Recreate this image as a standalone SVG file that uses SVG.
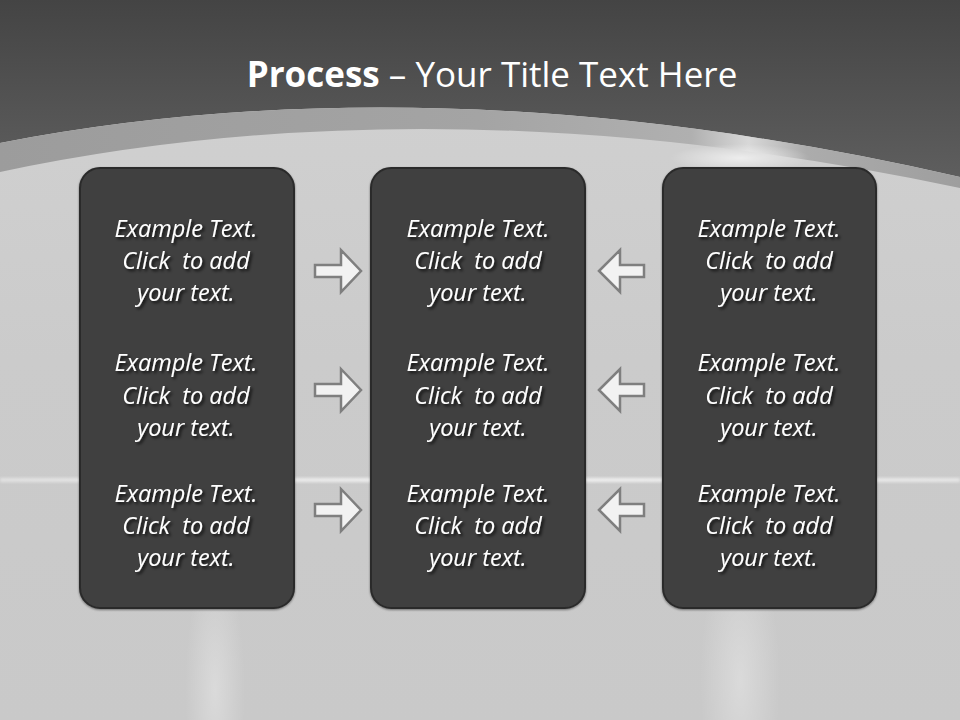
<svg xmlns="http://www.w3.org/2000/svg" width="960" height="720" viewBox="0 0 960 720">
  <defs>
    <linearGradient id="topGrad" x1="0" y1="0" x2="0" y2="1">
      <stop offset="0" stop-color="#444444"/>
      <stop offset="1" stop-color="#5e5e5e"/>
    </linearGradient>
    <linearGradient id="bandGrad" x1="0" y1="0" x2="1" y2="0">
      <stop offset="0" stop-color="#9c9c9c"/>
      <stop offset="0.5" stop-color="#a4a4a4"/>
      <stop offset="0.72" stop-color="#b0b0b0"/>
      <stop offset="0.78" stop-color="#d8d8d8"/>
      <stop offset="0.84" stop-color="#acacac"/>
      <stop offset="1" stop-color="#9e9e9e"/>
    </linearGradient>
    <linearGradient id="lightGrad" x1="0" y1="0" x2="0" y2="1">
      <stop offset="0" stop-color="#d2d2d2"/>
      <stop offset="0.5" stop-color="#cbcbcb"/>
      <stop offset="1" stop-color="#c9c9c9"/>
    </linearGradient>
    <radialGradient id="glare" cx="0.5" cy="0.5" r="0.5">
      <stop offset="0" stop-color="#ffffff" stop-opacity="0.9"/>
      <stop offset="1" stop-color="#ffffff" stop-opacity="0"/>
    </radialGradient>
    <linearGradient id="hline" x1="0" y1="0" x2="1" y2="0">
      <stop offset="0" stop-color="#ffffff" stop-opacity="0.45"/>
      <stop offset="0.5" stop-color="#ffffff" stop-opacity="0.75"/>
      <stop offset="1" stop-color="#ffffff" stop-opacity="0.55"/>
    </linearGradient>
    <filter id="boxShadow" x="-10%" y="-10%" width="120%" height="120%">
      <feDropShadow dx="0" dy="1" stdDeviation="1.2" flood-color="#000000" flood-opacity="0.45"/>
    </filter>
    <filter id="txtShadow" x="-10%" y="-20%" width="120%" height="150%">
      <feDropShadow dx="2" dy="2" stdDeviation="1.5" flood-color="#000000" flood-opacity="0.8"/>
    </filter>
    <filter id="soft" x="-50%" y="-50%" width="200%" height="200%">
      <feGaussianBlur stdDeviation="1.5"/>
    </filter>
  </defs>
  <style>
    .box { fill: #3f3f3f; stroke: #2b2b2b; stroke-width: 2; }
    .txt { font-family: "Open Sans", "Liberation Sans", sans-serif; font-style: italic; font-size: 23.5px; fill: #ffffff; text-anchor: middle; white-space: pre; }
    .arrow { fill: #f2f2f2; stroke: #7f7f7f; stroke-width: 2.5; stroke-linejoin: miter; }
    .title { font-family: "Open Sans", "Liberation Sans", sans-serif; font-size: 35px; fill: #ffffff; text-anchor: middle; }
  </style>

  <!-- background -->
  <rect x="0" y="0" width="960" height="720" fill="url(#lightGrad)"/>
  <path d="M0,0 H960 V177 Q440,57.8 0,143 Z" fill="url(#topGrad)"/>
  <path d="M0,143 Q440,57.8 960,177 V188 Q440,78.6 0,172 Z" fill="url(#bandGrad)"/>
  <ellipse cx="740" cy="158" rx="70" ry="14" fill="url(#glare)" opacity="0.7"/>
  <rect x="0" y="478" width="960" height="4" fill="url(#hline)" filter="url(#soft)"/>
  <ellipse cx="215" cy="690" rx="30" ry="130" fill="url(#glare)" opacity="0.35"/>
  <ellipse cx="740" cy="680" rx="40" ry="140" fill="url(#glare)" opacity="0.35"/>

  <text class="title" x="492" y="87"><tspan font-weight="bold">Process</tspan> – Your Title Text Here</text>

  <g id="node-left">
    <rect class="box" x="80" y="168" width="214" height="440" rx="20" ry="20" filter="url(#boxShadow)"/>
    <g filter="url(#txtShadow)">
      <text class="txt" x="186" y="237">Example Text.</text>
      <text class="txt" x="186" y="269">Click  to add</text>
      <text class="txt" x="186" y="301">your text.</text>
      <text class="txt" x="186" y="371">Example Text.</text>
      <text class="txt" x="186" y="404">Click  to add</text>
      <text class="txt" x="186" y="436">your text.</text>
      <text class="txt" x="186" y="502">Example Text.</text>
      <text class="txt" x="186" y="534">Click  to add</text>
      <text class="txt" x="186" y="566">your text.</text>
    </g>
  </g>

  <g id="node-middle">
    <rect class="box" x="371" y="168" width="214" height="440" rx="20" ry="20" filter="url(#boxShadow)"/>
    <g filter="url(#txtShadow)">
      <text class="txt" x="478" y="237">Example Text.</text>
      <text class="txt" x="478" y="269">Click  to add</text>
      <text class="txt" x="478" y="301">your text.</text>
      <text class="txt" x="478" y="371">Example Text.</text>
      <text class="txt" x="478" y="404">Click  to add</text>
      <text class="txt" x="478" y="436">your text.</text>
      <text class="txt" x="478" y="502">Example Text.</text>
      <text class="txt" x="478" y="534">Click  to add</text>
      <text class="txt" x="478" y="566">your text.</text>
    </g>
  </g>

  <g id="node-right">
    <rect class="box" x="663" y="168" width="213" height="440" rx="20" ry="20" filter="url(#boxShadow)"/>
    <g filter="url(#txtShadow)">
      <text class="txt" x="769" y="237">Example Text.</text>
      <text class="txt" x="769" y="269">Click  to add</text>
      <text class="txt" x="769" y="301">your text.</text>
      <text class="txt" x="769" y="371">Example Text.</text>
      <text class="txt" x="769" y="404">Click  to add</text>
      <text class="txt" x="769" y="436">your text.</text>
      <text class="txt" x="769" y="502">Example Text.</text>
      <text class="txt" x="769" y="534">Click  to add</text>
      <text class="txt" x="769" y="566">your text.</text>
    </g>
  </g>

  <g id="connectors">
    <polygon class="arrow" points="315,265 341,265 341,250 361,271 341,292 341,277 315,277"/>
    <polygon class="arrow" points="315,384 341,384 341,369 361,390 341,411 341,396 315,396"/>
    <polygon class="arrow" points="315,504 341,504 341,489 361,510 341,531 341,516 315,516"/>
    <polygon class="arrow" points="599,271 620,250 620,265 644,265 644,277 620,277 620,292"/>
    <polygon class="arrow" points="599,390 620,369 620,384 644,384 644,396 620,396 620,411"/>
    <polygon class="arrow" points="599,510 620,489 620,504 644,504 644,516 620,516 620,531"/>
  </g>
</svg>
